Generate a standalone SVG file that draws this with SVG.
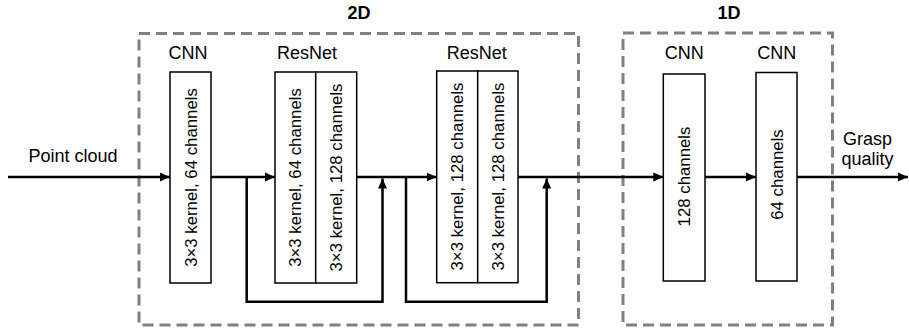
<svg xmlns="http://www.w3.org/2000/svg" width="909" height="334" viewBox="0 0 909 334">
<style>
text{font-family:"Liberation Sans",Arial,sans-serif;fill:#000}
.lbl{font-size:18px;text-anchor:middle}
.ttl{font-size:18px;font-weight:bold;text-anchor:middle}
.vt{font-size:16.8px;text-anchor:middle}
.box{fill:#fff;stroke:#000;stroke-width:1.5}
.grp{fill:none;stroke:#808080;stroke-width:3;stroke-dasharray:11 6}
.ln{fill:none;stroke:#000;stroke-width:2.5}
</style>
<defs>
<marker id="ah" viewBox="0 0 10 10" refX="10" refY="5" markerWidth="10" markerHeight="10" markerUnits="userSpaceOnUse" orient="auto">
<path d="M0,0.5 L10,5 L0,9.5 Z" fill="#000"/>
</marker>
</defs>
<g id="group-2d">
<rect class="grp" x="139" y="33.5" width="439.5" height="291.5"/>
<text class="ttl" x="359" y="18.5">2D</text>
</g>
<g id="group-1d">
<rect class="grp" x="623" y="33" width="209.5" height="292"/>
<text class="ttl" x="729" y="18.5">1D</text>
</g>
<g id="connectors">
<line class="ln" x1="8" y1="177" x2="170" y2="177" marker-end="url(#ah)"/>
<line class="ln" x1="211" y1="177" x2="275" y2="177" marker-end="url(#ah)"/>
<polyline class="ln" points="246.7,177 246.7,301.7 382.5,301.7 382.5,178.5" marker-end="url(#ah)"/>
<line class="ln" x1="356.7" y1="177" x2="436.7" y2="177" marker-end="url(#ah)"/>
<polyline class="ln" points="406,177 406,301.7 546.7,301.7 546.7,178.5" marker-end="url(#ah)"/>
<line class="ln" x1="518" y1="177" x2="663.3" y2="177" marker-end="url(#ah)"/>
<line class="ln" x1="705" y1="177" x2="756" y2="177" marker-end="url(#ah)"/>
<line class="ln" x1="797" y1="177" x2="908" y2="177" marker-end="url(#ah)"/>
</g>
<g id="input-label">
<text class="lbl" x="73" y="162">Point cloud</text>
</g>
<g id="cnn-2d">
<text class="lbl" x="188" y="59">CNN</text>
<rect class="box" x="170" y="72" width="41" height="211"/>
<text class="vt" transform="translate(190.5,177.5) rotate(-90)" dy="0.36em">3×3 kernel, 64 channels</text>
</g>
<g id="resnet-1">
<text class="lbl" x="307" y="59">ResNet</text>
<rect class="box" x="275" y="72" width="40.7" height="211"/>
<rect class="box" x="315.7" y="72" width="41" height="211"/>
<text class="vt" transform="translate(295.3,177.5) rotate(-90)" dy="0.36em">3×3 kernel, 64 channels</text>
<text class="vt" transform="translate(336.2,177.5) rotate(-90)" dy="0.36em">3×3 kernel, 128 channels</text>
</g>
<g id="resnet-2">
<text class="lbl" x="476.7" y="59">ResNet</text>
<rect class="box" x="436.7" y="71" width="41" height="211.7"/>
<rect class="box" x="477.7" y="71" width="40.3" height="211.7"/>
<text class="vt" transform="translate(457.2,176.5) rotate(-90)" dy="0.36em">3×3 kernel, 128 channels</text>
<text class="vt" transform="translate(497.8,176.5) rotate(-90)" dy="0.36em">3×3 kernel, 128 channels</text>
</g>
<g id="cnn-1d-a">
<text class="lbl" x="684.3" y="59">CNN</text>
<rect class="box" x="663.3" y="74" width="41.7" height="207"/>
<text class="vt" transform="translate(684.2,176.5) rotate(-90)" dy="0.36em">128 channels</text>
</g>
<g id="cnn-1d-b">
<text class="lbl" x="776.7" y="59">CNN</text>
<rect class="box" x="756" y="72.5" width="41" height="208.5"/>
<text class="vt" transform="translate(776.5,174.5) rotate(-90)" dy="0.36em">64 channels</text>
</g>
<g id="output-label">
<text class="lbl" x="867.5" y="145">Grasp</text>
<text class="lbl" x="867.5" y="165">quality</text>
</g>
</svg>
